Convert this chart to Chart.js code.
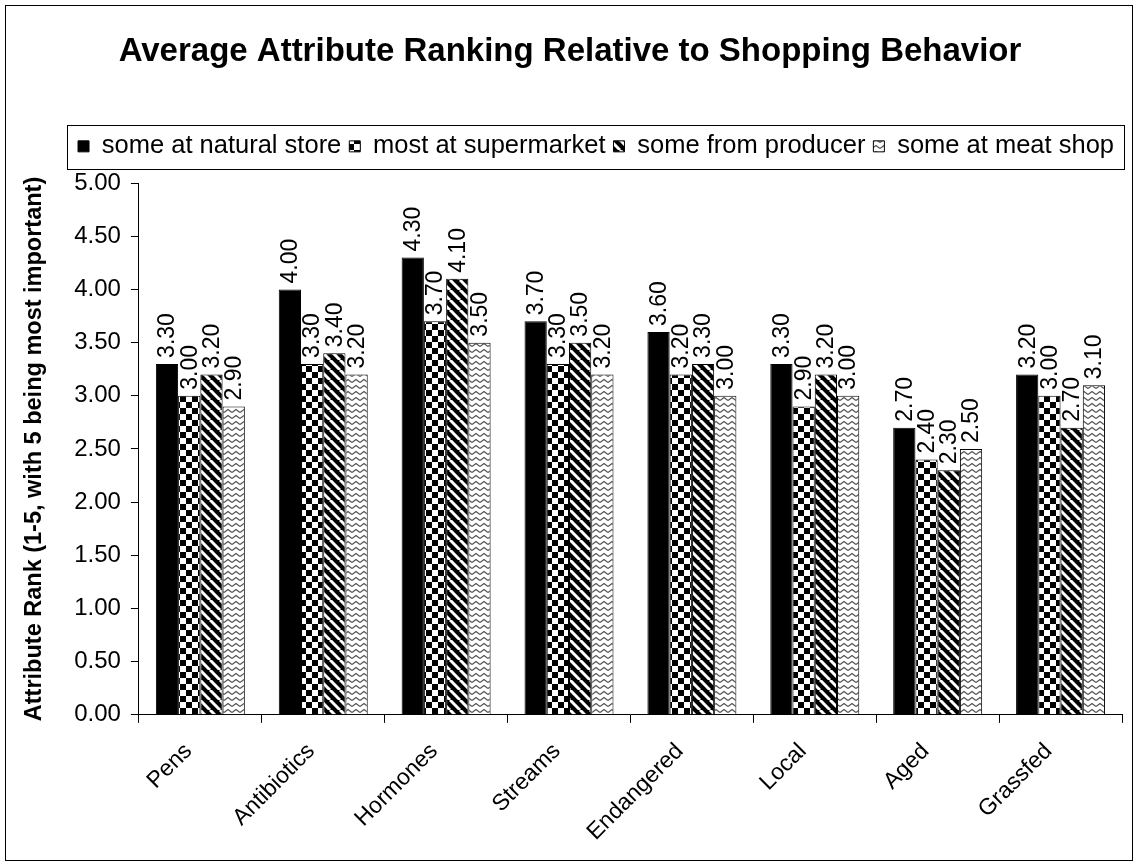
<!DOCTYPE html>
<html>
<head>
<meta charset="utf-8">
<title>Average Attribute Ranking Relative to Shopping Behavior</title>
<script src="https://cdn.jsdelivr.net/npm/chart.js@4/dist/chart.umd.min.js"></script>
<style>
    body { margin: 0; background: #fff; }
    #wrap { width: 1138px; height: 867px; }
</style>
</head>
<body>
<div id="wrap"><canvas id="rankChart" width="1138" height="867"></canvas></div>
<script>
// attributes on the x axis
const categories = ['Pens', 'Antibiotics', 'Hormones', 'Streams', 'Endangered', 'Local', 'Aged', 'Grassfed'];
const seriesNames = ['some at natural store', 'most at supermarket', 'some from producer', 'some at meat shop'];

// average rank per attribute, one array per shopping behaviour
const naturalStore = [3.30, 4.00, 4.30, 3.70, 3.60, 3.30, 2.70, 3.20];
const supermarket = [3.00, 3.30, 3.70, 3.30, 3.20, 2.90, 2.40, 3.00];
const producer = [3.20, 3.40, 4.10, 3.50, 3.30, 3.20, 2.30, 2.70];
const meatShop = [2.90, 3.20, 3.50, 3.20, 3.00, 3.00, 2.50, 3.10];

const yMin = 0;
const yMax = 5;
const yStep = 0.5;

const FONT = '"Liberation Sans", Arial, sans-serif';
const LEGEND_GAP = 14; // extra space under the legend box

// small tile canvases used as fill patterns for the bars
function makePattern(w, h, draw) {
    const tile = document.createElement('canvas');
    tile.width = w;
    tile.height = h;
    const tctx = tile.getContext('2d');
    tctx.fillStyle = '#fff';
    tctx.fillRect(0, 0, w, h);
    draw(tctx, w, h);
    return document.createElement('canvas').getContext('2d').createPattern(tile, 'repeat');
}

const checkerFill = makePattern(12, 12, (c) => {
    c.fillStyle = '#000';
    c.fillRect(0, 0, 6, 6);
    c.fillRect(6, 6, 6, 6);
});

const stripeFill = makePattern(10, 10, (c, w, h) => {
    c.fillStyle = '#000';
    c.fillRect(0, 0, w, h);
    c.strokeStyle = '#fff';
    c.lineWidth = 3;
    [-w, 0, w].forEach(off => {
        c.beginPath();
        c.moveTo(off, 0);
        c.lineTo(off + w, h);
        c.stroke();
    });
});

const waveFill = makePattern(8, 6, (c) => {
    c.strokeStyle = '#555';
    c.lineWidth = 1.3;
    c.beginPath();
    c.moveTo(0, 4.5);
    c.lineTo(4, 1.5);
    c.lineTo(8, 4.5);
    c.stroke();
});

const fills = ['#000', checkerFill, stripeFill, waveFill];
const seriesData = [naturalStore, supermarket, producer, meatShop];

// white page with the thin outer frame
const pageFrame = {
    id: 'pageFrame',
    beforeDraw(chart) {
        const ctx = chart.ctx;
        ctx.save();
        ctx.fillStyle = '#fff';
        ctx.fillRect(0, 0, chart.width, chart.height);
        ctx.strokeStyle = '#000';
        ctx.lineWidth = 1;
        ctx.strokeRect(5.5, 5.5, chart.width - 11, chart.height - 12);
        ctx.restore();
    }
};

// push the plot area down a bit below the legend
const legendMargin = {
    id: 'legendMargin',
    beforeInit(chart) {
        const fitValue = chart.legend.fit;
        chart.legend.fit = function fit() {
            fitValue.bind(chart.legend)();
            return this.height += LEGEND_GAP;
        }
    }
};

// box drawn round the legend items
const legendFrame = {
    id: 'legendFrame',
    afterDraw(chart) {
        const boxes = chart.legend.legendHitBoxes;
        if (!boxes || !boxes.length) return;
        const left = Math.min(...boxes.map(b => b.left)) - 11;
        const right = Math.max(...boxes.map(b => b.left + b.width)) + 10;
        const top = Math.min(...boxes.map(b => b.top)) - 9;
        const bottom = Math.max(...boxes.map(b => b.top + b.height)) + 9;
        const ctx = chart.ctx;
        ctx.save();
        ctx.strokeStyle = '#000';
        ctx.lineWidth = 1;
        ctx.strokeRect(Math.round(left) + 0.5, Math.round(top) + 0.5,
            Math.round(right - left), Math.round(bottom - top));
        ctx.restore();
    }
};

// vertical value labels on top of every bar
const barValueLabels = {
    id: 'barValueLabels',
    afterDatasetsDraw(chart) {
        const ctx = chart.ctx;
        ctx.save();
        ctx.font = '23px ' + FONT;
        ctx.fillStyle = '#000';
        ctx.textAlign = 'left';
        ctx.textBaseline = 'middle';
        chart.data.datasets.forEach((ds, i) => {
            chart.getDatasetMeta(i).data.forEach((bar, j) => {
                ctx.save();
                ctx.translate(bar.x + 1, bar.y - 6);
                ctx.rotate(-Math.PI / 2);
                ctx.fillText(ds.data[j].toFixed(2), 0, 0);
                ctx.restore();
            });
        });
        ctx.restore();
    }
};

const datasets = seriesNames.map((name, i) => ({
    label: name,
    data: seriesData[i],
    backgroundColor: fills[i],
    borderColor: '#000',
    borderWidth: 1,
    categoryPercentage: 0.724,
    barPercentage: 1.0
}));

new Chart(document.getElementById('rankChart'), {
    type: 'bar',
    data: {
        labels: categories,
        datasets: datasets
    },
    options: {
        responsive: false,
        animation: false,
        devicePixelRatio: 1,
        layout: {
            padding: {top: 10, left: 18, right: 16, bottom: 6}
        },
        plugins: {
            title: {
                display: true,
                text: 'Average Attribute Ranking Relative to Shopping Behavior',
                color: '#000',
                font: {family: FONT, size: 33, weight: 'bold'},
                padding: {top: 22, bottom: 54}
            },
            legend: {
                position: 'top',
                align: 'end',
                labels: {
                    color: '#000',
                    font: {family: FONT, size: 25.5},
                    boxWidth: 11,
                    boxHeight: 11,
                    padding: 8
                }
            },
            tooltip: {enabled: false}
        },
        scales: {
            x: {
                grid: {
                    display: true,
                    drawOnChartArea: false,
                    drawTicks: true,
                    tickLength: 8,
                    color: '#000'
                },
                border: {display: true, color: '#000'},
                ticks: {
                    color: '#000',
                    font: {family: FONT, size: 23},
                    maxRotation: 45,
                    minRotation: 45,
                    padding: 15,
                    labelOffset: -12
                }
            },
            y: {
                min: yMin,
                max: yMax,
                title: {
                    display: true,
                    text: 'Attribute Rank (1-5, with 5 being most important)',
                    color: '#000',
                    font: {family: FONT, size: 23.5, weight: 'bold'},
                    padding: {top: 2, bottom: 16}
                },
                grid: {
                    display: true,
                    drawOnChartArea: false,
                    drawTicks: true,
                    tickLength: 8,
                    color: '#000'
                },
                border: {display: true, color: '#000'},
                ticks: {
                    stepSize: yStep,
                    color: '#000',
                    padding: 10,
                    font: {family: FONT, size: 24},
                    callback: (v) => Number(v).toFixed(2)
                }
            }
        }
    },
    plugins: [pageFrame, legendMargin, legendFrame, barValueLabels]
});
</script>
</body>
</html>
